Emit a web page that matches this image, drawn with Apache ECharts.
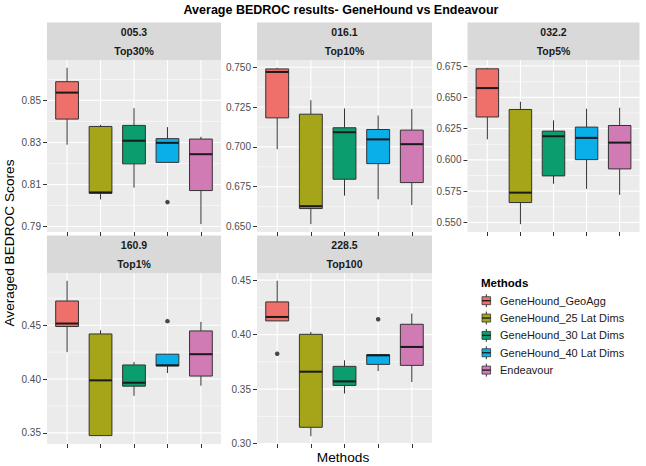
<!DOCTYPE html>
<html><head><meta charset="utf-8">
<script src="https://cdn.jsdelivr.net/npm/echarts@6/dist/echarts.min.js"></script>
<style>html,body{margin:0;padding:0;background:#fff}#c{width:646px;height:466px}</style>
</head><body><div id="c"></div>
<script>
// ---------- DATA ----------
const methods = ['GeneHound_GeoAgg', 'GeneHound_25 Lat Dims', 'GeneHound_30 Lat Dims', 'GeneHound_40 Lat Dims', 'Endeavour'];
const panelCodes = ['005.3', '016.1', '032.2', '160.9', '228.5'];
const panelTops = ['Top30%', 'Top10%', 'Top5%', 'Top1%', 'Top100'];
// each row: [lower whisker, Q1, median, Q3, upper whisker] per method
const box005 = [[0.8289, 0.8411, 0.8537, 0.8589, 0.8655], [0.8029, 0.8058, 0.8062, 0.8376, 0.8384], [0.8085, 0.8198, 0.8308, 0.8381, 0.8463], [0.8205, 0.8205, 0.8298, 0.8318, 0.8373], [0.7911, 0.8071, 0.8244, 0.8316, 0.8327]];
const box016 = [[0.6985, 0.7182, 0.7470, 0.7489, 0.7496], [0.6515, 0.6613, 0.6628, 0.7205, 0.7293], [0.6694, 0.6797, 0.7092, 0.7120, 0.7241], [0.6671, 0.6895, 0.7047, 0.7109, 0.7197], [0.6635, 0.6776, 0.7017, 0.7105, 0.7237]];
const box032 = [[0.6164, 0.6343, 0.6574, 0.6728, 0.6736], [0.5486, 0.5659, 0.5738, 0.6403, 0.6465], [0.5809, 0.5872, 0.6189, 0.6230, 0.6316], [0.5768, 0.6002, 0.6176, 0.6262, 0.6409], [0.5720, 0.5928, 0.6138, 0.6275, 0.6417]];
const box160 = [[0.4250, 0.4488, 0.4516, 0.4725, 0.4913], [0.3469, 0.3475, 0.3988, 0.4419, 0.4453], [0.3844, 0.3934, 0.3966, 0.4131, 0.4159], [0.4056, 0.4122, 0.4128, 0.4231, 0.4231], [0.3938, 0.4028, 0.4231, 0.4447, 0.4531]];
const box228 = [[0.4126, 0.4126, 0.4162, 0.4300, 0.4494], [0.3068, 0.3150, 0.3660, 0.4003, 0.4025], [0.3460, 0.3534, 0.3571, 0.3709, 0.3764], [0.3666, 0.3727, 0.3810, 0.3816, 0.3816], [0.3565, 0.3718, 0.3887, 0.4095, 0.4193]];
// outliers: [method index (1-based), value]
const out005 = [[4, 0.8016]];
const out016 = [];
const out032 = [];
const out160 = [[4, 0.4538]];
const out228 = [[1, 0.3825], [4, 0.4141]];
// y tick labels per panel
const ticks005 = ['0.79', '0.81', '0.83', '0.85'];
const ticks016 = ['0.650', '0.675', '0.700', '0.725', '0.750'];
const ticks032 = ['0.550', '0.575', '0.600', '0.625', '0.650', '0.675'];
const ticks160 = ['0.35', '0.40', '0.45'];
const ticks228 = ['0.30', '0.35', '0.40', '0.45'];

// ---------- STYLE / LAYOUT ----------
const colors = ['#EF6F6B', '#A6A419', '#0B9D6E', '#0AAEE9', '#D17BB4'];
const layouts = [
  {left: 47, top: 60, width: 174, height: 172},
  {left: 257, top: 60, width: 175, height: 172},
  {left: 467.5, top: 60, width: 172, height: 172},
  {left: 47, top: 273, width: 174, height: 171},
  {left: 257, top: 273, width: 175, height: 171}
];
const FONT = '"Liberation Sans", Arial, Helvetica, sans-serif';
const boxes = [box005, box016, box032, box160, box228];
const outs = [out005, out016, out032, out160, out228];
const tickSets = [ticks005, ticks016, ticks032, ticks160, ticks228];
const BOXW = 0.68;

const grids = [], xAxes = [], yAxes = [], series = [], graphics = [];

boxes.forEach((bx, p) => {
  const L = layouts[p];
  grids.push({left: L.left, top: L.top, width: L.width, height: L.height, show: true,
    backgroundColor: '#EBEBEB', borderWidth: 0});
  let lo = Infinity, hi = -Infinity;
  bx.forEach(r => { lo = Math.min(lo, r[0]); hi = Math.max(hi, r[4]); });
  outs[p].forEach(o => { lo = Math.min(lo, o[1]); hi = Math.max(hi, o[1]); });
  const pad = (hi - lo) * 0.05;
  const ymin = lo - pad, ymax = hi + pad;
  const tickVals = tickSets[p].map(Number);
  xAxes.push({gridIndex: p, type: 'value', min: 0.4, max: 5.6,
    axisLine: {show: false}, splitLine: {show: false}, axisLabel: {show: false},
    axisTick: {show: true, customValues: [1, 2, 3, 4, 5], length: 4, lineStyle: {color: '#333', width: 1}}});
  yAxes.push({gridIndex: p, type: 'value', min: ymin, max: ymax,
    axisLine: {show: false}, splitLine: {show: false},
    axisTick: {show: true, customValues: tickVals, length: 4, lineStyle: {color: '#333', width: 1}},
    axisLabel: {show: true, customValues: tickVals, margin: 6, color: '#4d4d4d', fontSize: 10, fontFamily: FONT,
      formatter: v => { const i = tickVals.findIndex(t => Math.abs(t - v) < 1e-9); return i >= 0 ? tickSets[p][i] : ''; }}});

  // grid lines: major y, minor y, major x
  const step = tickVals[1] - tickVals[0];
  const gl = [];
  tickVals.forEach(v => gl.push([0, v]));
  for (let k = -1; k < tickVals.length; k++) {
    const m = tickVals[0] + (k + 0.5) * step;
    if (m > ymin && m < ymax) gl.push([1, m]);
  }
  [1, 2, 3, 4, 5].forEach(c => gl.push([2, c]));
  series.push({type: 'custom', xAxisIndex: p, yAxisIndex: p, z: 1, silent: true, clip: true,
    data: gl, encode: {x: -1, y: -1},
    renderItem: (params, api) => {
      const cs = params.coordSys;
      const t = api.value(0), v = api.value(1);
      if (t === 2) {
        const px = api.coord([v, ymin])[0];
        return {type: 'line', shape: {x1: px, y1: cs.y, x2: px, y2: cs.y + cs.height},
          style: {stroke: '#fff', lineWidth: 1.1}};
      }
      const py = api.coord([1, v])[1];
      return {type: 'line', shape: {x1: cs.x, y1: py, x2: cs.x + cs.width, y2: py},
        style: {stroke: '#fff', lineWidth: t === 0 ? 1.1 : 0.55}};
    }});

  // boxes
  bx.forEach((r, m) => {
    series.push({type: 'custom', name: methods[m], xAxisIndex: p, yAxisIndex: p, z: 3,
      itemStyle: {color: colors[m]},
      data: [[m + 1].concat(r)],
      encode: {x: 0, y: [1, 2, 3, 4, 5]},
      renderItem: (params, api) => {
        const x = api.value(0);
        const w0 = api.value(1), q1 = api.value(2), md = api.value(3), q3 = api.value(4), w1 = api.value(5);
        const a = api.coord([x - BOXW / 2, q3]), b = api.coord([x + BOXW / 2, q1]);
        const cHi = api.coord([x, w1]), cQ3 = api.coord([x, q3]), cQ1 = api.coord([x, q1]), cLo = api.coord([x, w0]);
        const cMd = api.coord([x, md]);
        return {type: 'group', children: [
          {type: 'line', shape: {x1: cHi[0], y1: cHi[1], x2: cQ3[0], y2: cQ3[1]}, style: {stroke: '#333', lineWidth: 1}},
          {type: 'line', shape: {x1: cQ1[0], y1: cQ1[1], x2: cLo[0], y2: cLo[1]}, style: {stroke: '#333', lineWidth: 1}},
          {type: 'rect', shape: {x: a[0], y: a[1], width: b[0] - a[0], height: b[1] - a[1]},
            style: {fill: colors[m], stroke: '#333', lineWidth: 1}},
          {type: 'line', shape: {x1: a[0], y1: cMd[1], x2: b[0], y2: cMd[1]}, style: {stroke: '#1a1a1a', lineWidth: 2}}
        ]};
      }});
  });
  // outliers
  series.push({type: 'scatter', xAxisIndex: p, yAxisIndex: p, z: 4, symbol: 'circle', symbolSize: 4.5,
    itemStyle: {color: '#1a1a1a'}, data: outs[p]});

  // strip
  graphics.push({type: 'rect', shape: {x: L.left, y: L.top - 37.5, width: L.width, height: 37.5}, style: {fill: '#D9D9D9'}, silent: true});
  graphics.push({type: 'text', x: L.left + L.width / 2, y: L.top - 28.3, silent: true,
    style: {text: panelCodes[p], fill: '#1a1a1a', font: 'bold 10.5px ' + FONT, textAlign: 'center', textVerticalAlign: 'middle'}});
  graphics.push({type: 'text', x: L.left + L.width / 2, y: L.top - 9, silent: true,
    style: {text: panelTops[p], fill: '#1a1a1a', font: 'bold 10.5px ' + FONT, textAlign: 'center', textVerticalAlign: 'middle'}});
});

// titles
graphics.push({type: 'text', x: 341, y: 10, silent: true,
  style: {text: 'Average BEDROC results- GeneHound vs Endeavour', fill: '#000', font: 'bold 12.5px ' + FONT, textAlign: 'center', textVerticalAlign: 'middle'}});
graphics.push({type: 'text', x: 343, y: 457, silent: true,
  style: {text: 'Methods', fill: '#000', font: '13.7px ' + FONT, textAlign: 'center', textVerticalAlign: 'middle'}});
graphics.push({type: 'text', x: 9, y: 243, rotation: Math.PI / 2, silent: true,
  style: {text: 'Averaged BEDROC Scores', fill: '#000', font: '13.7px ' + FONT, textAlign: 'center', textVerticalAlign: 'middle'}});

// legend
graphics.push({type: 'text', x: 481, y: 283, silent: true,
  style: {text: 'Methods', fill: '#000', font: 'bold 11.5px ' + FONT, textAlign: 'left', textVerticalAlign: 'middle'}});
methods.forEach((name, i) => {
  const cy = 300.7 + i * 17.35;
  graphics.push({type: 'line', shape: {x1: 486.3, y1: cy - 6.5, x2: 486.3, y2: cy + 6.5}, style: {stroke: '#333', lineWidth: 1}, silent: true});
  graphics.push({type: 'rect', shape: {x: 482, y: cy - 4, width: 8.6, height: 8}, style: {fill: colors[i], stroke: '#333', lineWidth: 0.8}, silent: true});
  graphics.push({type: 'line', shape: {x1: 482, y1: cy, x2: 490.6, y2: cy}, style: {stroke: '#1a1a1a', lineWidth: 1.3}, silent: true});
  graphics.push({type: 'text', x: 500, y: cy, silent: true,
    style: {text: name, fill: '#1a1a1a', font: '11px ' + FONT, textAlign: 'left', textVerticalAlign: 'middle'}});
});

const chart = echarts.init(document.getElementById('c'), null, {renderer: 'svg'});
chart.setOption({
  animation: false,
  backgroundColor: '#fff',
  grid: grids, xAxis: xAxes, yAxis: yAxes, series: series,
  graphic: {elements: graphics}
});
</script></body></html>
